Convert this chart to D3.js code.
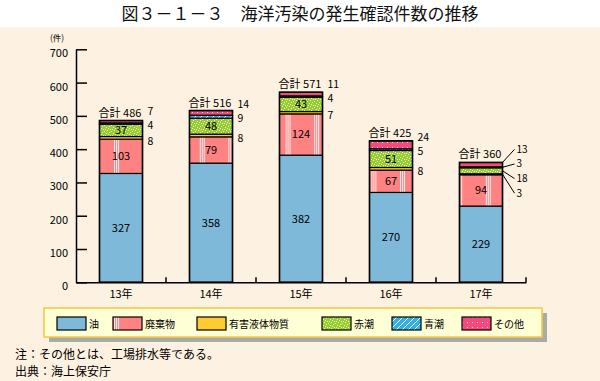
<!DOCTYPE html>
<html><head><meta charset="utf-8">
<script src="https://cdn.jsdelivr.net/npm/d3@7"></script>
<style>
html,body{margin:0;padding:0;background:#fff;}
svg{display:block;font-family:"Noto Sans CJK JP","Noto Sans",sans-serif;}
</style></head>
<body>
<svg id="chart" width="600" height="381"></svg>
<script>
// ---- data ----
const categories = ["13年", "14年", "15年", "16年", "17年"];
const seriesNames = ["油", "廃棄物", "有害液体物質", "赤潮", "青潮", "その他"];
const oil       = [327, 358, 382, 270, 229];
const waste     = [103, 79, 124, 67, 94];
const hazardous = [8, 8, 7, 8, 3];
const redTide   = [37, 48, 43, 51, 18];
const blueTide  = [4, 9, 4, 5, 3];
const others    = [7, 14, 11, 24, 13];
const totals    = [486, 516, 571, 425, 360];
const yTicks    = [0, 100, 200, 300, 400, 500, 600, 700];
const titleText = "図３－１－３　海洋汚染の発生確認件数の推移";
const noteLines = ["注：その他とは、工場排水等である。", "出典：海上保安庁"];

// ---- styles / layout ----
const colors = ["#7fb9d9", "#ff8282", "#ffcb33", "#9acc33", "#35b1dc", "#f24c7e"];
const fills  = ["#7fb9d9", "url(#pWaste)", "#ffcb33", "url(#pRed)", "url(#pBlue)", "url(#pOther)"];
const legendX = [57, 113, 197, 322, 392, 462];
const W = 600, H = 381;

const seriesData = [oil, waste, hazardous, redTide, blueTide, others];
const table = categories.map((c, i) => {
  const o = {cat: c};
  seriesNames.forEach((s, k) => o[s] = seriesData[k][i]);
  return o;
});
const stacked = d3.stack().keys(seriesNames)(table);

const svg = d3.select("#chart");
svg.append("rect").attr("width", W).attr("height", H).attr("fill", "#fdf2e1");
svg.append("rect").attr("width", W).attr("height", 27).attr("fill", "#ffffff");

// patterns
const defs = svg.append("defs");
const pw = defs.append("pattern").attr("id", "pWaste").attr("patternUnits", "userSpaceOnUse")
  .attr("x", 114).attr("y", 0).attr("width", 28.6).attr("height", 10);
pw.append("rect").attr("width", 28.6).attr("height", 10).attr("fill", colors[1]);
[0.5, 2.5, 4.5].forEach(x => pw.append("line").attr("x1", x).attr("x2", x).attr("y1", 0).attr("y2", 10)
  .attr("stroke", "#fff").attr("stroke-opacity", 0.85).attr("stroke-width", 1));

const pr = defs.append("pattern").attr("id", "pRed").attr("patternUnits", "userSpaceOnUse")
  .attr("width", 7).attr("height", 6);
pr.append("rect").attr("width", 7).attr("height", 6).attr("fill", colors[3]);
[[1,1],[4,0],[5,3],[2,4],[0,3],[6,5],[3,2]].forEach(([x,y]) => pr.append("rect").attr("x", x).attr("y", y)
  .attr("width", 1).attr("height", 1).attr("fill", "#f4ffd8").attr("opacity", 0.85));

const pb = defs.append("pattern").attr("id", "pBlue").attr("patternUnits", "userSpaceOnUse")
  .attr("width", 6).attr("height", 6);
pb.append("rect").attr("width", 6).attr("height", 6).attr("fill", colors[4]);
pb.append("path").attr("d", "M0,6 L6,0 M-1,1 L1,-1 M5,7 L7,5").attr("stroke", "#fff").attr("stroke-width", 1);

const po = defs.append("pattern").attr("id", "pOther").attr("patternUnits", "userSpaceOnUse")
  .attr("width", 5).attr("height", 5);
po.append("rect").attr("width", 5).attr("height", 5).attr("fill", colors[5]);
po.append("rect").attr("x", 2).attr("y", 2).attr("width", 1).attr("height", 1).attr("fill", "#fff").attr("opacity", 0.7);

// title
svg.append("text").attr("x", 300).attr("y", 20).attr("text-anchor", "middle")
  .attr("font-size", 17).attr("fill", "#111").text(titleText);

// scales
const x = d3.scaleBand().domain(categories).range([76, 526]);
const y = d3.scaleLinear().domain([0, 700]).range([282.3, 49.3]);
const barW = 43;
const bx = c => x(c) + x.bandwidth() / 2 - barW / 2;

// y axis
const yAxis = svg.append("g").attr("transform", "translate(76,0)")
  .call(d3.axisLeft(y).tickValues(yTicks).tickSize(-11).tickPadding(8).tickSizeOuter(0));
yAxis.select(".domain").attr("stroke", "#000").attr("stroke-width", 1.5);
yAxis.selectAll(".tick line").attr("stroke", "#000").attr("stroke-width", 1.5);
yAxis.selectAll(".tick text").attr("font-size", 11).attr("fill", "#000")
  .attr("font-family", "'Noto Sans CJK JP',sans-serif").attr("transform", "translate(0,4)");
svg.append("text").attr("x", 50).attr("y", 41).attr("font-size", 8.5).text("(件)");

// bars
const layers = svg.append("g").selectAll("g").data(stacked).join("g")
  .attr("fill", (d, i) => fills[i]);
layers.selectAll("rect").data(d => d).join("rect")
  .attr("x", d => bx(d.data.cat))
  .attr("width", barW)
  .attr("y", d => y(d[1]))
  .attr("height", d => y(d[0]) - y(d[1]))
  .attr("stroke", "#000").attr("stroke-width", 1.2);
// bar outline
svg.append("g").selectAll("rect").data(categories).join("rect")
  .attr("x", c => bx(c)).attr("width", barW)
  .attr("y", (c, i) => y(totals[i])).attr("height", (c, i) => y(0) - y(totals[i]))
  .attr("fill", "none").attr("stroke", "#000").attr("stroke-width", 1.5);

// bottom axis
const xAxis = svg.append("g").attr("transform", `translate(0,${y(0)})`)
  .call(d3.axisBottom(x).tickSize(0).tickPadding(8));
xAxis.select(".domain").attr("stroke", "#000").attr("stroke-width", 1.5);
xAxis.selectAll(".tick text").attr("font-size", 11).attr("fill", "#000")
  .attr("font-family", "'Noto Sans CJK JP',sans-serif");
svg.append("g").selectAll("line").data(categories).join("line")
  .attr("x1", c => x(c) + x.bandwidth()).attr("x2", c => x(c) + x.bandwidth())
  .attr("y1", y(0)).attr("y2", y(0) - 5).attr("stroke", "#000").attr("stroke-width", 1.5);

// labels
const lab = svg.append("g").attr("font-size", 11).attr("fill", "#000");
const mid = (k, i) => y((stacked[k][i][0] + stacked[k][i][1]) / 2);
categories.forEach((c, i) => {
  const cx = x(c) + x.bandwidth() / 2;
  const right = bx(c) + barW;
  // totals
  lab.append("text").attr("x", cx - 1).attr("y", y(totals[i]) - 4).attr("text-anchor", "middle")
    .text("合計 " + totals[i]);
  // inside labels
  const inside = [0, 1];
  if (redTide[i] >= 30) inside.push(3);
  inside.forEach(k => lab.append("text").attr("x", cx).attr("y", mid(k, i)).attr("dy", "0.35em")
    .attr("text-anchor", "middle").text(seriesData[k][i]));
  if (i < categories.length - 1) {
    const hY = Math.max(mid(2, i) + 3, mid(4, i) + 17);
    const bY = Math.min(mid(4, i) + 2, hY - 15);
    const oY = Math.min(mid(5, i), bY - 14.5);
    [[2, hY], [4, bY], [5, oY]].forEach(([k, ly]) =>
      lab.append("text").attr("x", right + 5).attr("y", ly).attr("dy", "0.35em")
        .attr("font-size", 10.5).text(seriesData[k][i]));
  } else {
    // leader-line labels (top to bottom): others, blue, red, hazardous
    const ks = [5, 4, 3, 2];
    const mids = ks.map(k => mid(k, i));
    const avg = d3.mean(mids) + 2;
    ks.forEach((k, j) => {
      const ly = avg + (j - 1.5) * 14.6;
      const sy = k === 5 ? y(totals[i]) : mids[j];
      lab.append("line").attr("x1", right).attr("y1", sy).attr("x2", right + 12).attr("y2", ly)
        .attr("stroke", "#000").attr("stroke-width", 1);
      lab.append("text").attr("x", right + 14).attr("y", ly).attr("dy", "0.35em")
        .attr("font-size", 10).text(seriesData[k][i]);
    });
  }
});

// legend
const lg = svg.append("g");
lg.append("rect").attr("x", 49).attr("y", 313).attr("width", 498).attr("height", 29).attr("fill", "#a9aca4");
lg.append("rect").attr("x", 44).attr("y", 308).attr("width", 498).attr("height", 29)
  .attr("fill", "#ffffd6").attr("stroke", "#f3c843").attr("stroke-width", 1.5);
seriesNames.forEach((s, k) => {
  lg.append("rect").attr("x", legendX[k]).attr("y", 317).attr("width", 29).attr("height", 13)
    .attr("fill", fills[k]).attr("stroke", "#000").attr("stroke-width", 1.2);
  lg.append("text").attr("x", legendX[k] + 32).attr("y", 324).attr("dy", "0.35em")
    .attr("font-size", 10).attr("fill", "#000").text(s);
});

// notes
noteLines.forEach((t, i) => svg.append("text").attr("x", 15).attr("y", 355 + i * 16.5).attr("dy", "0.36em")
  .attr("font-size", 12).attr("fill", "#000").text(t));
</script>
</body></html>
